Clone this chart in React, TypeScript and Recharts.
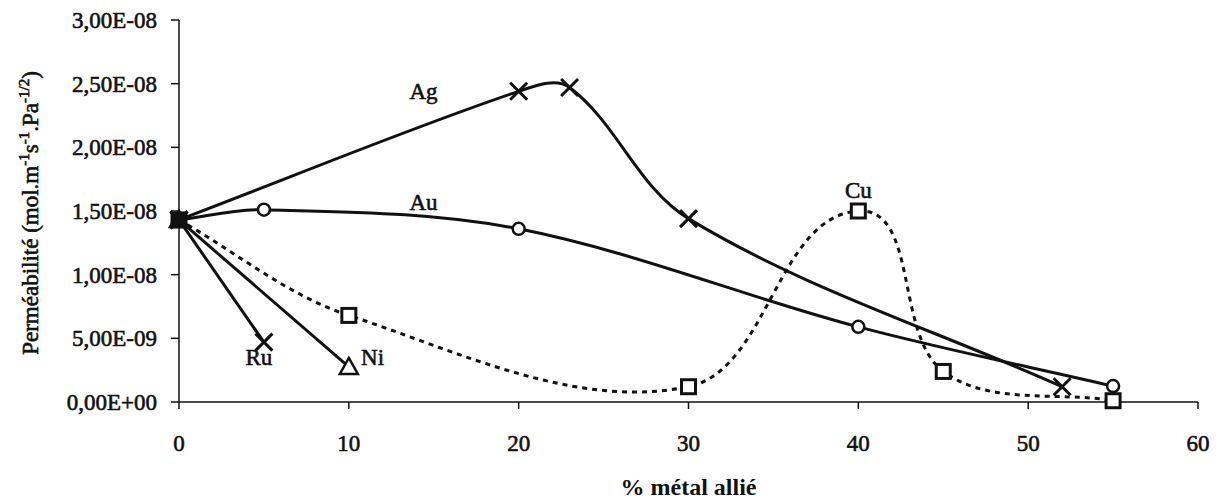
import React from "react";
import { LineChart, Line, XAxis, YAxis, ReferenceDot } from "recharts";

// values
const xTicks = [0, 10, 20, 30, 40, 50, 60];
const yTicks = [0, 5e-9, 1e-8, 1.5e-8, 2e-8, 2.5e-8, 3e-8];

const agX = [0, 20, 23, 30, 52];
const agY = [1.43e-8, 2.44e-8, 2.47e-8, 1.44e-8, 1.2e-9];

const auX = [0, 5, 20, 40, 55];
const auY = [1.43e-8, 1.51e-8, 1.36e-8, 5.9e-9, 1.25e-9];

const cuX = [0, 10, 30, 40, 45, 55];
const cuY = [1.43e-8, 6.8e-9, 1.2e-9, 1.5e-8, 2.4e-9, 1e-10];

const ruX = [0, 5];
const ruY = [1.43e-8, 4.7e-9];

const niX = [0, 10];
const niY = [1.43e-8, 2.75e-9];

// series names written next to the curves
const tagNames = ["Ag", "Au", "Cu", "Ru", "Ni"];
const tagX = [14.4, 14.4, 40, 4.7, 11.4];
const tagY = [2.44e-8, 1.57e-8, 1.66e-8, 3.5e-9, 3.5e-9];

const FONT = '"Liberation Serif", "Times New Roman", Times, serif';
const INK = "#111";
// the scan makes the Times text look heavy, a thin outline imitates that
const HEAVY = { stroke: INK, strokeWidth: 0.6 };

type Pt = { x: number; y: number };

function zip(xs: number[], ys: number[]): Pt[] {
  return xs.map((x, i) => ({ x, y: ys[i] }));
}

// E-notation like the french Excel axis: 1,50E-08
function formatSci(v: number) {
  const [m, e] = Number(v).toExponential(2).split("e");
  const exp = Number(e);
  const sign = exp < 0 ? "-" : "+";
  return `${m.replace(".", ",")}E${sign}${String(Math.abs(exp)).padStart(2, "0")}`;
}

// smoothed line close to what Excel draws: tangent from neighbours,
// handle length tied to the segment length (keeps the small bumps small)
function excelSmooth(context: any) {
  let pts: [number, number][] = [];
  const unit = (dx: number, dy: number) => {
    const l = Math.hypot(dx, dy) || 1;
    return [dx / l, dy / l];
  };
  return {
    areaStart() {},
    areaEnd() {},
    lineStart() {
      pts = [];
    },
    point(x: number, y: number) {
      pts.push([+x, +y]);
    },
    lineEnd() {
      const n = pts.length;
      if (!n) return;
      context.moveTo(pts[0][0], pts[0][1]);
      for (let i = 0; i < n - 1; i++) {
        const p0 = pts[i - 1] ?? pts[i];
        const p1 = pts[i];
        const p2 = pts[i + 1];
        const p3 = pts[i + 2] ?? pts[i + 1];
        const k = Math.hypot(p2[0] - p1[0], p2[1] - p1[1]) / 3;
        const d1 = unit(p2[0] - p0[0], p2[1] - p0[1]);
        const d2 = unit(p3[0] - p1[0], p3[1] - p1[1]);
        context.bezierCurveTo(
          p1[0] + d1[0] * k,
          p1[1] + d1[1] * k,
          p2[0] - d2[0] * k,
          p2[1] - d2[1] * k,
          p2[0],
          p2[1],
        );
      }
    },
  };
}

type Shape = "x" | "circle" | "square" | "triangle";

function Marker({ cx, cy, index, shape }: { cx?: number; cy?: number; index?: number; shape: Shape }) {
  if (cx == null || cy == null || Number.isNaN(cx) || Number.isNaN(cy)) {
    return null;
  }
  const fill = index === 0 ? INK : "#fff";
  if (shape === "x") {
    const s = 8.5;
    return (
      <path
        d={`M${cx - s},${cy - s}L${cx + s},${cy + s}M${cx - s},${cy + s}L${cx + s},${cy - s}`}
        stroke={INK}
        strokeWidth={3}
        fill="none"
      />
    );
  }
  if (shape === "circle") {
    return <circle cx={cx} cy={cy} r={6} fill={fill} stroke={INK} strokeWidth={2.5} />;
  }
  if (shape === "square") {
    return <rect x={cx - 7} y={cy - 7} width={14} height={14} fill={fill} stroke={INK} strokeWidth={3} />;
  }
  return (
    <path
      d={`M${cx},${cy - 9}L${cx + 9},${cy + 7}L${cx - 9},${cy + 7}Z`}
      fill={fill}
      stroke={INK}
      strokeWidth={2.5}
      strokeLinejoin="miter"
    />
  );
}

function dotFor(name: string, shape: Shape) {
  return (p: any) => <Marker key={`${name}-${p.index}`} cx={p.cx} cy={p.cy} index={p.index} shape={shape} />;
}

function YTitle(props: any) {
  const vb = props.viewBox ?? { x: 0, y: 12, width: 171, height: 382 };
  const cy = vb.y + vb.height / 2 + 2;
  const x = 30;
  const sup = { fontSize: 15 };
  return (
    <text
      x={x}
      y={cy}
      transform={`rotate(-90, ${x}, ${cy})`}
      textAnchor="middle"
      fontFamily={FONT}
      fontSize={23}
      fill={INK}
      {...HEAVY}
    >
      <tspan>Perméabilité (mol.m</tspan>
      <tspan dy={-9} {...sup}>-1</tspan>
      <tspan dy={9}>s</tspan>
      <tspan dy={-9} {...sup}>-1</tspan>
      <tspan dy={9}>.Pa</tspan>
      <tspan dy={-9} {...sup}>-1/2</tspan>
      <tspan dy={9}>)</tspan>
    </text>
  );
}

function XTitle(props: any) {
  const vb = props.viewBox ?? { x: 171, y: 394, width: 1019, height: 100 };
  return (
    <text
      x={vb.x + vb.width / 2}
      y={vb.y + 93}
      textAnchor="middle"
      fontFamily={FONT}
      fontSize={24}
      fontWeight="bold"
      fill={INK}
    >
      % métal allié
    </text>
  );
}

const tickStyle = { fontFamily: FONT, fontSize: 23, fill: INK, ...HEAVY };

export default function App() {
  const ag = zip(agX, agY);
  const au = zip(auX, auY);
  const cu = zip(cuX, cuY);
  const ru = zip(ruX, ruY);
  const ni = zip(niX, niY);

  return (
    <div style={{ width: 1205, height: 494, background: "#fff" }}>
      <LineChart width={1205} height={494} margin={{ top: 12, right: 15, left: 0, bottom: 0 }}>
        <XAxis
          dataKey="x"
          type="number"
          domain={[0, 60]}
          ticks={xTicks}
          interval={0}
          height={100}
          tickSize={7}
          tickMargin={26}
          tick={tickStyle}
          stroke={INK}
          strokeWidth={1.5}
          label={<XTitle />}
        />
        <YAxis
          type="number"
          domain={[0, 3e-8]}
          ticks={yTicks}
          interval={0}
          width={171}
          tickSize={8}
          tickMargin={14}
          tick={tickStyle}
          tickFormatter={formatSci}
          stroke={INK}
          strokeWidth={1.5}
          label={<YTitle />}
        />
        <Line
          data={cu}
          dataKey="y"
          type={excelSmooth as any}
          stroke={INK}
          strokeWidth={3}
          strokeDasharray="5 5"
          dot={dotFor("cu", "square")}
          activeDot={false}
          isAnimationActive={false}
        />
        <Line
          data={ru}
          dataKey="y"
          type="linear"
          stroke={INK}
          strokeWidth={3}
          dot={dotFor("ru", "x")}
          activeDot={false}
          isAnimationActive={false}
        />
        <Line
          data={ni}
          dataKey="y"
          type="linear"
          stroke={INK}
          strokeWidth={3}
          dot={dotFor("ni", "triangle")}
          activeDot={false}
          isAnimationActive={false}
        />
        <Line
          data={au}
          dataKey="y"
          type={excelSmooth as any}
          stroke={INK}
          strokeWidth={3}
          dot={dotFor("au", "circle")}
          activeDot={false}
          isAnimationActive={false}
        />
        <Line
          data={ag}
          dataKey="y"
          type={excelSmooth as any}
          stroke={INK}
          strokeWidth={3}
          dot={dotFor("ag", "x")}
          activeDot={false}
          isAnimationActive={false}
        />
        {tagNames.map((name, i) => (
          <ReferenceDot
            key={name}
            x={tagX[i]}
            y={tagY[i]}
            r={0}
            shape={(p: any) => (
              <text
                x={p.cx}
                y={p.cy}
                textAnchor="middle"
                dominantBaseline="central"
                fontFamily={FONT}
                fontSize={23}
                fill={INK}
                {...HEAVY}
              >
                {name}
              </text>
            )}
          />
        ))}
      </LineChart>
    </div>
  );
}
